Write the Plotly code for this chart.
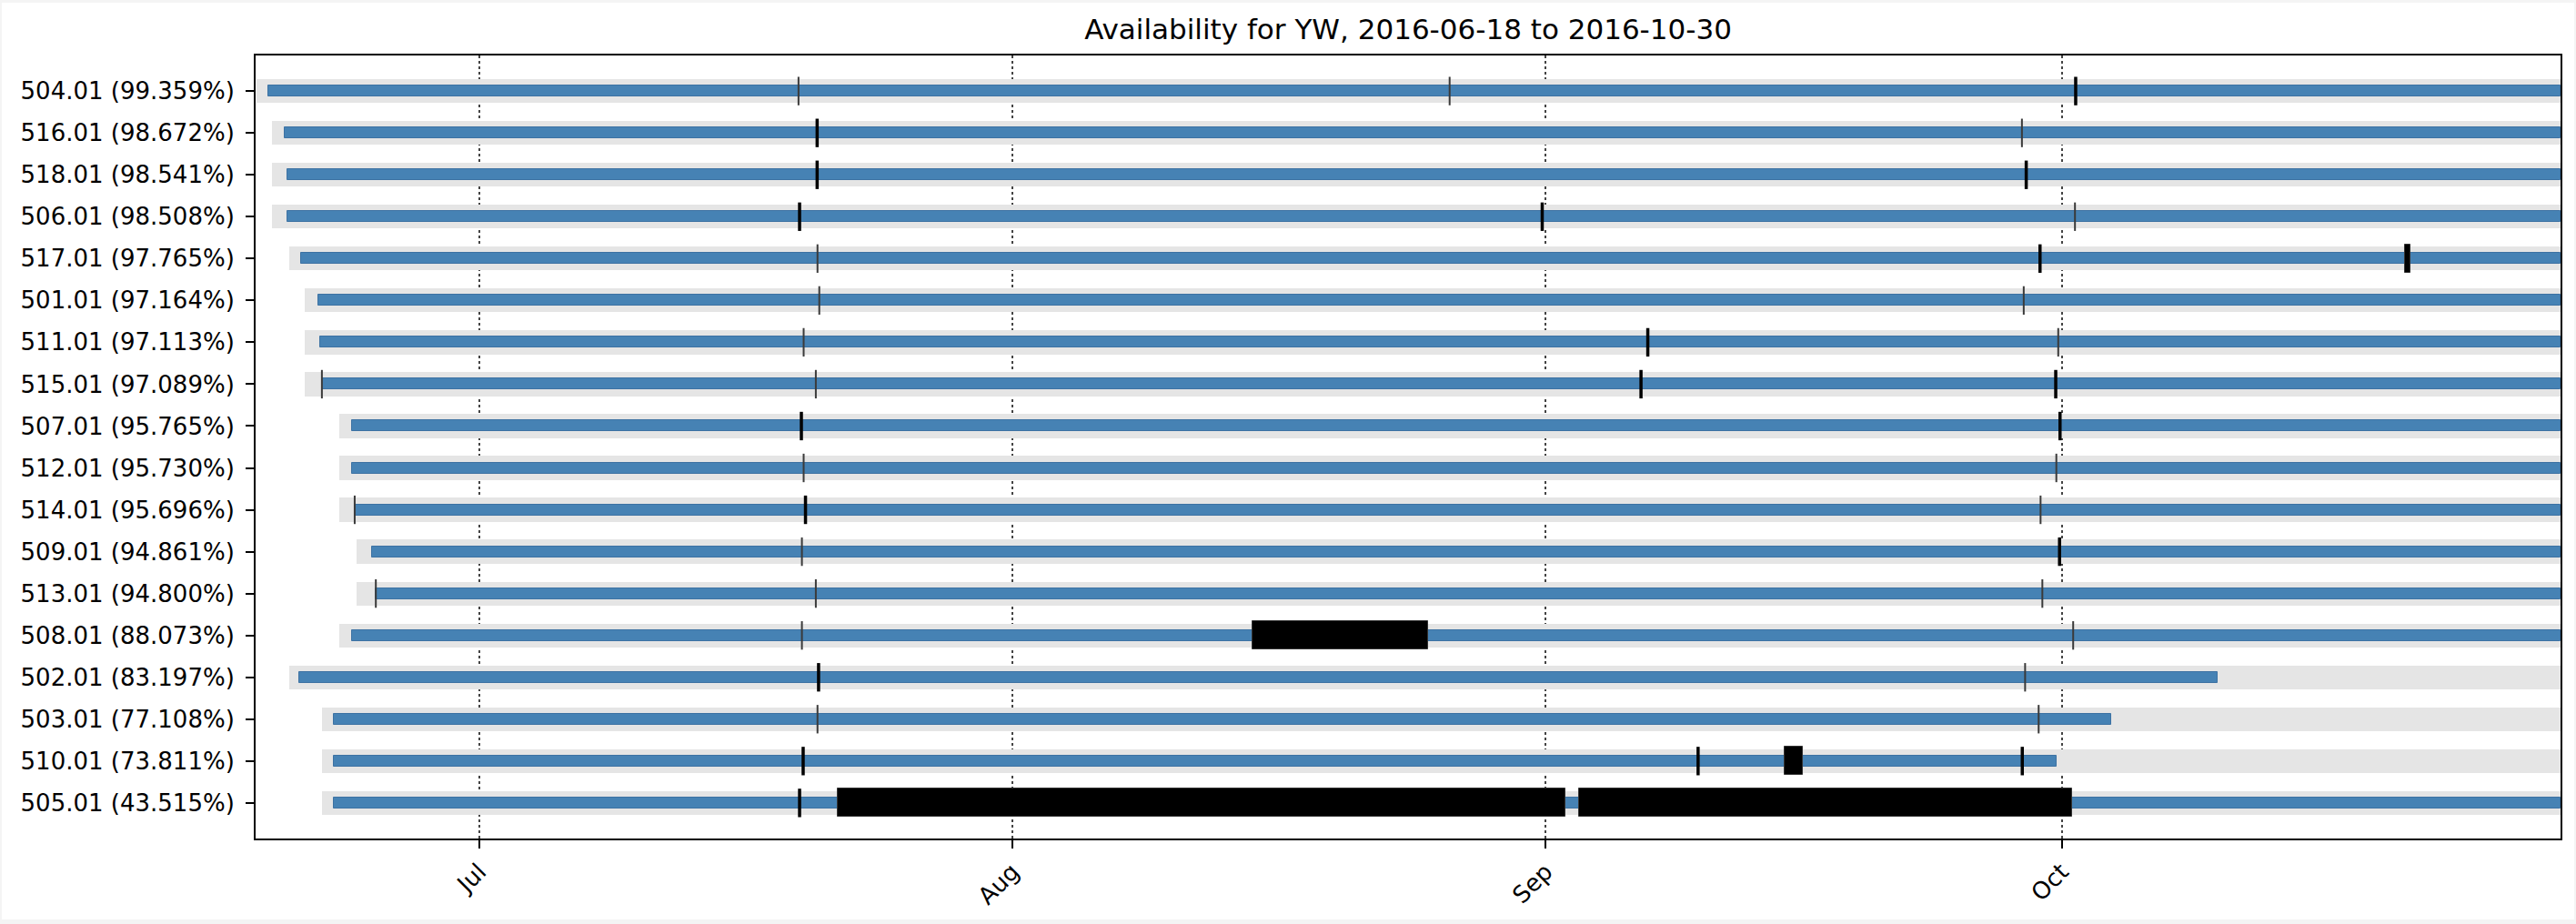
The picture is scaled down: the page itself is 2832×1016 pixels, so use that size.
import pandas as pd
import plotly.graph_objects as go

PERIOD_START = "2016-06-18"
PERIOD_END = "2016-10-30"
NETWORK = "YW"

stations = ["504.01", "516.01", "518.01", "506.01", "517.01", "501.01", "511.01", "515.01", "507.01",
            "512.01", "514.01", "509.01", "513.01", "508.01", "502.01", "503.01", "510.01", "505.01"]
availability = [99.359, 98.672, 98.541, 98.508, 97.765, 97.164, 97.113, 97.089, 95.765,
                95.730, 95.696, 94.861, 94.800, 88.073, 83.197, 77.108, 73.811, 43.515]

# first day the station was expected to record (grey) and span of the actual data (blue)
expected_start = ["2016-06-18 01:40", "2016-06-18 23:00", "2016-06-18 23:00", "2016-06-18 23:00",
                  "2016-06-19 23:00", "2016-06-20 21:00", "2016-06-20 21:00", "2016-06-20 21:00",
                  "2016-06-22 21:00", "2016-06-22 21:00", "2016-06-22 21:00", "2016-06-23 21:00",
                  "2016-06-23 21:00", "2016-06-22 21:00", "2016-06-19 23:00", "2016-06-21 21:00",
                  "2016-06-21 21:00", "2016-06-21 21:00"]
data_start = ["2016-06-18 18:00", "2016-06-19 16:20", "2016-06-19 21:00", "2016-06-19 21:00",
              "2016-06-20 16:00", "2016-06-21 16:00", "2016-06-21 18:30", "2016-06-21 20:30",
              "2016-06-23 14:30", "2016-06-23 14:30", "2016-06-23 18:00", "2016-06-24 18:40",
              "2016-06-24 23:45", "2016-06-23 14:30", "2016-06-20 13:00", "2016-06-22 13:30",
              "2016-06-22 13:30", "2016-06-22 13:30"]
data_end = [PERIOD_END] * 14 + ["2016-10-10 02:00", "2016-10-03 20:40", "2016-09-30 16:30", PERIOD_END]

# gaps in the data: (start, length in hours)
gaps = [
    [("2016-07-19 13:00", 1), ("2016-08-26 09:30", 1), ("2016-10-01 18:00", 3)],
    [("2016-07-20 14:00", 3), ("2016-09-28 16:00", 1)],
    [("2016-07-20 14:00", 3), ("2016-09-28 21:00", 3)],
    [("2016-07-19 13:30", 3), ("2016-08-31 17:40", 3), ("2016-10-01 18:00", 1)],
    [("2016-07-20 15:30", 1), ("2016-09-29 16:15", 3), ("2016-10-20 23:30", 7)],
    [("2016-07-20 18:00", 1), ("2016-09-28 18:30", 1)],
    [("2016-07-19 20:10", 1), ("2016-09-06 21:00", 3), ("2016-09-30 18:40", 1)],
    [("2016-06-21 20:00", 1), ("2016-07-20 13:10", 1), ("2016-09-06 11:30", 3), ("2016-09-30 14:10", 3)],
    [("2016-07-19 16:00", 3), ("2016-09-30 20:10", 3)],
    [("2016-07-19 20:10", 1), ("2016-09-30 16:00", 1)],
    [("2016-06-23 17:45", 1), ("2016-07-19 21:45", 3), ("2016-09-29 18:00", 1)],
    [("2016-07-19 17:45", 1), ("2016-09-30 19:30", 3)],
    [("2016-06-24 23:15", 1), ("2016-07-20 13:10", 1), ("2016-09-29 20:30", 1)],
    [("2016-07-19 17:45", 1), ("2016-08-14 22:30", 245.5), ("2016-10-01 15:30", 1)],
    [("2016-07-20 16:00", 3), ("2016-09-28 20:10", 1.5)],
    [("2016-07-20 15:30", 1), ("2016-09-29 15:20", 1)],
    [("2016-07-19 18:30", 3), ("2016-09-09 19:10", 3), ("2016-09-14 21:20", 25.5), ("2016-09-28 15:30", 3)],
    [("2016-07-19 13:30", 3), ("2016-07-21 20:10", 1016), ("2016-09-02 22:00", 689)],
]

month_ticks = ["2016-07-01", "2016-08-01", "2016-09-01", "2016-10-01"]
month_labels = ["Jul", "Aug", "Sep", "Oct"]

rows = list(range(len(stations)))
labels = [f"{s} ({a:.3f}%)" for s, a in zip(stations, availability)]

W, H = 2832, 1016
M_L, M_R, M_T, M_B = 281, 17, 61, 94


def _span_ms(start, end):
    return [(pd.Timestamp(e) - pd.Timestamp(s)).total_seconds() * 1000 for s, e in zip(start, end)]


fig = go.Figure()

# expected recording window
fig.add_trace(go.Bar(
    orientation="h", y=rows, base=expected_start,
    x=_span_ms(expected_start, [PERIOD_END] * len(rows)),
    width=0.57, marker=dict(color="#e5e5e5", line=dict(width=0)),
    hoverinfo="skip", showlegend=False,
))

# data actually present
fig.add_trace(go.Bar(
    orientation="h", y=rows, base=data_start, x=_span_ms(data_start, data_end),
    width=0.26, marker=dict(color="#4682b4", line=dict(color="#3d72a3", width=1)),
    hoverinfo="skip", showlegend=False,
))

# long gaps as boxes, short ones as tick marks
box_y, box_base, box_len = [], [], []
thin_x, thin_y, thick_x, thick_y = [], [], [], []
for r, station_gaps in enumerate(gaps):
    for start, hours in station_gaps:
        t0 = pd.Timestamp(start)
        if hours >= 6:
            box_y.append(r)
            box_base.append(start)
            box_len.append(hours * 3600 * 1000)
        else:
            mid = t0 + pd.Timedelta(hours=hours / 2)
            xs, ys = (thin_x, thin_y) if hours < 2 else (thick_x, thick_y)
            xs += [mid, mid, None]
            ys += [r - 0.34, r + 0.34, None]

fig.add_trace(go.Bar(
    orientation="h", y=box_y, base=box_base, x=box_len,
    width=0.67, marker=dict(color="black", line=dict(color="#333333", width=1)),
    hoverinfo="skip", showlegend=False,
))
fig.add_trace(go.Scatter(x=thin_x, y=thin_y, mode="lines",
                         line=dict(color="#3a3a3a", width=2), hoverinfo="skip", showlegend=False))
fig.add_trace(go.Scatter(x=thick_x, y=thick_y, mode="lines",
                         line=dict(color="black", width=3.5), hoverinfo="skip", showlegend=False))

# white figure face inside a thin light-grey frame
pw, ph = W - M_L - M_R, H - M_T - M_B
fig.add_shape(type="rect", xref="paper", yref="paper", layer="below",
              x0=(2 - M_L) / pw, x1=(W - 2 - M_L) / pw,
              y0=(H - M_B - (H - 5)) / ph, y1=(H - M_B - 3) / ph,
              fillcolor="white", line=dict(width=0))

fig.update_layout(
    width=W, height=H,
    margin=dict(l=M_L, r=M_R, t=M_T, b=M_B),
    paper_bgcolor="#f4f4f4", plot_bgcolor="white",
    barmode="overlay", bargap=0,
    font=dict(family="DejaVu Sans", size=26, color="black"),
    title=dict(text=f"Availability for {NETWORK}, {PERIOD_START} to {PERIOD_END}",
               x=0.5, xref="paper", xanchor="center",
               y=1, yref="paper", yanchor="bottom", pad=dict(b=18),
               font=dict(size=31, color="black")),
)

fig.update_xaxes(
    type="date", range=[PERIOD_START, PERIOD_END],
    tickvals=month_ticks, ticktext=month_labels, tickangle=-45,
    showgrid=True, griddash="dot", gridcolor="#444444", gridwidth=1.5,
    ticks="outside", ticklen=9, tickwidth=1.5, tickcolor="black",
    showline=True, mirror=True, linecolor="black", linewidth=2,
    zeroline=False,
)
fig.update_yaxes(
    range=[len(rows) - 1 + 0.85, -0.85],
    tickvals=rows, ticktext=labels,
    showgrid=False, zeroline=False,
    ticks="outside", ticklen=9, tickwidth=1.5, tickcolor="black",
    ticklabelstandoff=7,
    showline=True, mirror=True, linecolor="black", linewidth=2,
)

fig.write_html("out.html", config={"displayModeBar": False},
               post_script="document.body.style.margin = '0';")
